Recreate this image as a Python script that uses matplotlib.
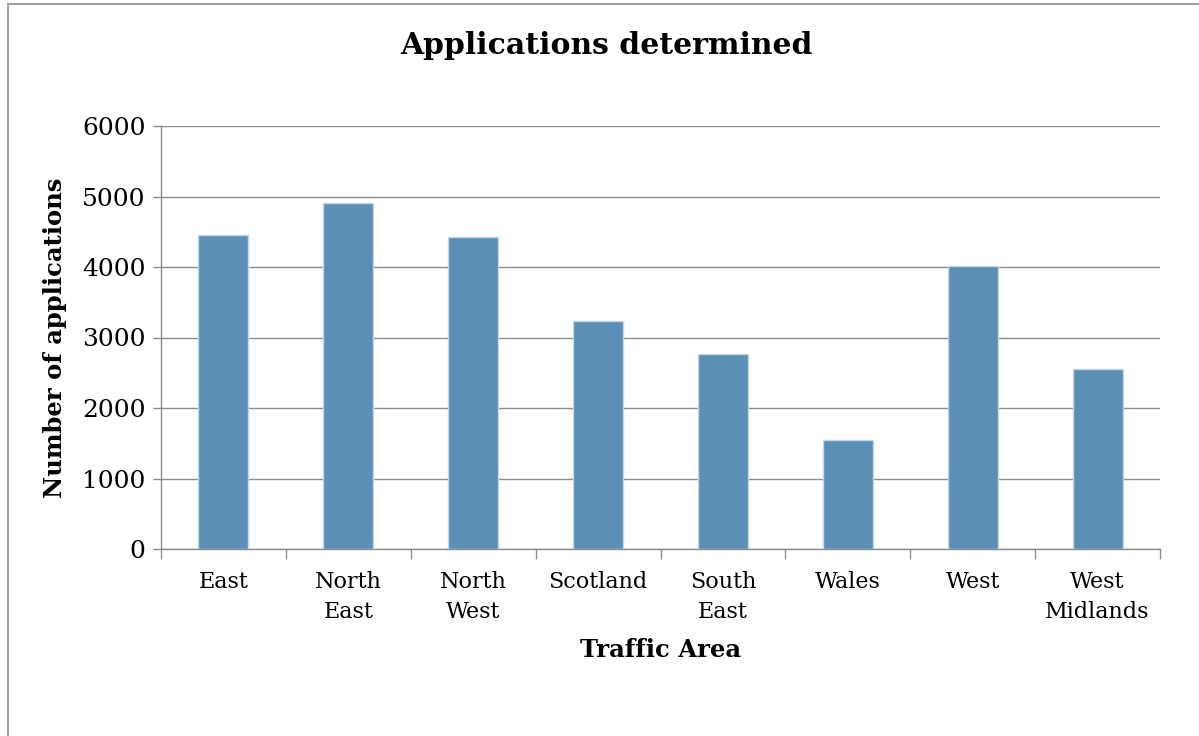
import numpy as np
import matplotlib
matplotlib.use('Agg')
import matplotlib.pyplot as plt
from matplotlib.patches import Rectangle

areas = ['East', 'North\nEast', 'North\nWest', 'Scotland', 'South\nEast',
         'Wales', 'West', 'West\nMidlands']
applications = [4460, 4910, 4430, 3230, 2770, 1550, 4020, 2550]
yticks = [0, 1000, 2000, 3000, 4000, 5000, 6000]

matplotlib.rcParams.update({
    'font.family': 'DejaVu Serif',
})

C_BAR = '#5b8fb5'
C_EDGE = '#c3d7e8'
C_GRID = '#8c8c8c'

fig = plt.figure(figsize=(11.99, 7.36), dpi=100)
ax = fig.add_axes([161 / 1199, 1 - 549 / 736, (1160 - 161) / 1199, (549 - 126) / 736])

x = np.arange(len(areas))
ax.bar(x, applications, width=0.4, color=C_BAR, edgecolor=C_EDGE,
       linewidth=1.0, zorder=3)

ax.set_xlim(-0.5, len(areas) - 0.5)
ax.set_ylim(0, 6000)
ax.set_yticks(yticks)
ax.set_yticklabels([str(v) for v in yticks], fontsize=18)
ax.set_xticks(x)
ax.set_xticklabels(areas, fontsize=16, linespacing=1.45)
ax.set_xticks(np.arange(-0.5, len(areas)), minor=True)
ax.tick_params(axis='x', which='major', length=0, pad=16)
ax.tick_params(axis='x', which='minor', length=7, color=C_GRID, width=1)
ax.tick_params(axis='y', length=6, color=C_GRID, width=1, pad=5)

ax.grid(axis='y', color=C_GRID, linewidth=1, zorder=0)
ax.set_axisbelow(True)
for side in ['top', 'right']:
    ax.spines[side].set_visible(False)
for side in ['left', 'bottom']:
    ax.spines[side].set_color(C_GRID)
    ax.spines[side].set_linewidth(1)

ax.set_ylabel('Number of applications', fontsize=17.5, fontweight='bold', labelpad=11)
ax.set_xlabel('Traffic Area', fontsize=17.5, fontweight='bold', labelpad=11)
fig.suptitle('Applications determined', fontsize=21.5, fontweight='bold',
             x=0.506, y=0.958)

# outer chart border (top and left visible in the crop)
fig.patches.append(Rectangle((8 / 1199, -0.01), 1.2, 1 - 4 / 736 + 0.01,
                             transform=fig.transFigure, fill=False,
                             edgecolor='#a0a0a0', linewidth=1.5))

fig.savefig('out.png', dpi=100)
